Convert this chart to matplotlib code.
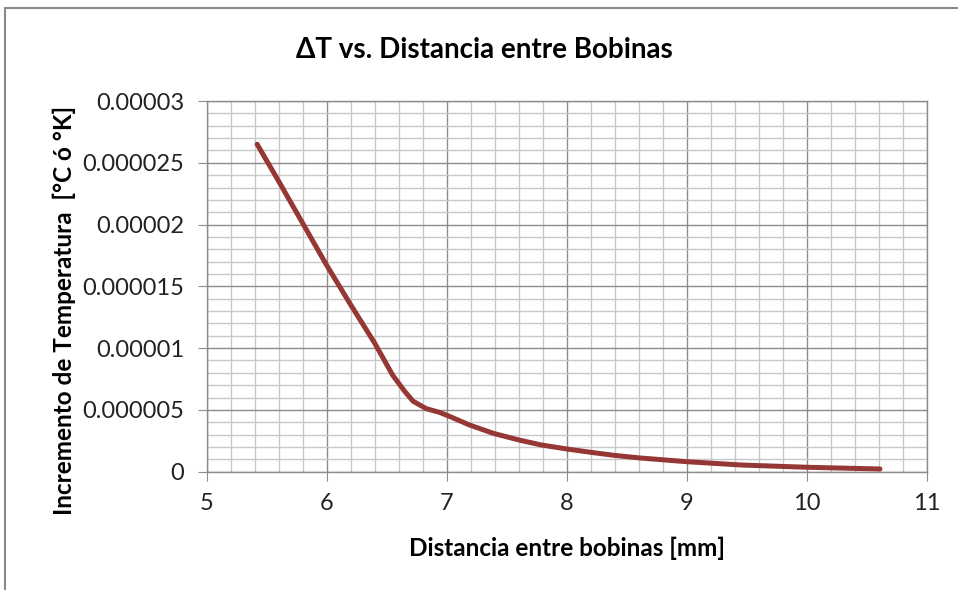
import matplotlib.pyplot as plt
from matplotlib.patches import Rectangle
from matplotlib.ticker import MultipleLocator, FixedLocator, FixedFormatter

plt.rcParams['font.family'] = ['Lato', 'DejaVu Sans']

# Data
distancia = [5.42, 5.6, 5.8, 6.0, 6.2, 6.4, 6.55, 6.65, 6.72, 6.83, 6.94, 7.03,
             7.19, 7.39, 7.6, 7.79, 8.0, 8.2, 8.39, 8.6, 9.0, 9.46, 10.0, 10.61]
delta_t = [26.5e-6, 23.5e-6, 20.1e-6, 16.7e-6, 13.5e-6, 10.4e-6, 7.8e-6, 6.5e-6,
           5.7e-6, 5.1e-6, 4.8e-6, 4.45e-6, 3.78e-6, 3.1e-6, 2.57e-6, 2.16e-6,
           1.84e-6, 1.57e-6, 1.33e-6, 1.12e-6, 0.81e-6, 0.54e-6, 0.36e-6, 0.22e-6]

x_ticks = [5, 6, 7, 8, 9, 10, 11]
y_ticks = [0, 0.000005, 0.00001, 0.000015, 0.00002, 0.000025, 0.00003]
y_labels = ["0", "0.000005", "0.00001", "0.000015", "0.00002", "0.000025", "0.00003"]

fig = plt.figure(figsize=(9.58, 5.9), dpi=100)
ax = fig.add_axes([0.2158, 0.2005, 0.7516, 0.6283])

# chart frame
fig.patches.append(Rectangle((5 / 958, -0.1), 1.2, 1.1 - 8 / 590,
                             transform=fig.transFigure, fill=False,
                             edgecolor='#8a8a8a', linewidth=1.5))

ax.plot(distancia, delta_t, color='#953735', linewidth=3.6,
        solid_capstyle='round', solid_joinstyle='round', zorder=3)

ax.set_xlim(5, 11)
ax.set_ylim(0, 0.00003)
ax.xaxis.set_major_locator(FixedLocator(x_ticks))
ax.xaxis.set_minor_locator(MultipleLocator(0.2))
ax.yaxis.set_major_locator(FixedLocator(y_ticks))
ax.yaxis.set_major_formatter(FixedFormatter(y_labels))
ax.yaxis.set_minor_locator(MultipleLocator(0.000001))

ax.grid(which='major', color='#8c8c8c', linewidth=1.0)
ax.grid(which='minor', color='#c8c8c8', linewidth=1.0)
ax.set_axisbelow(True)

for s in ax.spines.values():
    s.set_color('#8c8c8c')
    s.set_linewidth(1.0)

ax.tick_params(which='major', length=6.3, color='#8c8c8c', labelsize=17,
               labelcolor='#222222')
ax.tick_params(axis='x', pad=9)
ax.tick_params(axis='y', pad=10)
ax.tick_params(which='minor', length=0)

fig.text(484 / 958, 1 - 50 / 590, "ΔT vs. Distancia entre Bobinas",
         fontsize=20, fontweight='bold', ha='center', va='center')
ax.set_xlabel("Distancia entre bobinas [mm]", fontsize=17.5, fontweight='bold')
ax.xaxis.set_label_coords(0.5, -0.175)
ax.set_ylabel("Incremento de Temperatura  [°C ó °K]", fontsize=17.5,
              fontweight='bold')
ax.yaxis.set_label_coords(-0.182, 0.434)

fig.savefig("out.png", dpi=100)
